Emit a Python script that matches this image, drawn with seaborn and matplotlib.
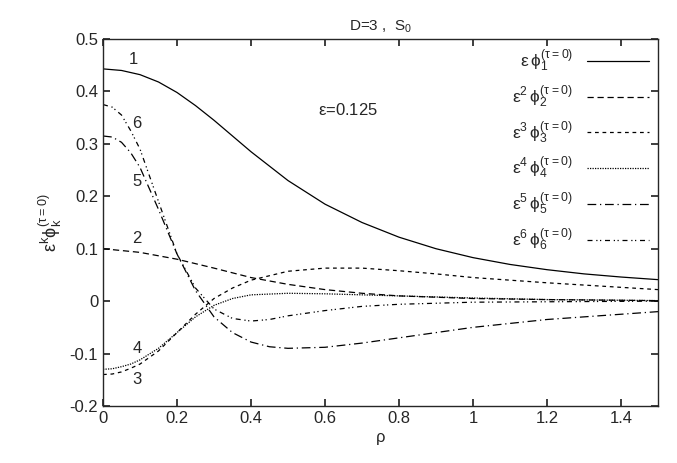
import numpy as np
import pandas as pd
import matplotlib
matplotlib.use('Agg')
import matplotlib.pyplot as plt
import seaborn as sns

sns.set_theme(style='ticks')
plt.rcParams['font.family'] = ['Liberation Sans', 'DejaVu Sans']
plt.rcParams['mathtext.fontset'] = 'dejavusans'
plt.rcParams['mathtext.default'] = 'regular'

# ─── Data ───
rho1 = [0, 0.05, 0.1, 0.15, 0.2, 0.25, 0.3, 0.4, 0.5, 0.6, 0.7, 0.8, 0.9, 1.0, 1.1, 1.2, 1.3, 1.4, 1.5]
phi1 = [0.443, 0.440, 0.432, 0.418, 0.398, 0.373, 0.345, 0.285, 0.23, 0.185, 0.15, 0.122, 0.1, 0.083, 0.07, 0.06, 0.052, 0.046, 0.041]
rho2 = [0, 0.1, 0.2, 0.3, 0.4, 0.5, 0.6, 0.7, 0.8, 1.0, 1.2, 1.5]
phi2 = [0.1, 0.093, 0.08, 0.063, 0.045, 0.032, 0.022, 0.015, 0.01, 0.005, 0.003, 0.001]
rho3 = [0, 0.025, 0.05, 0.075, 0.1, 0.15, 0.2, 0.25, 0.3, 0.35, 0.4, 0.5, 0.6, 0.7, 0.8, 0.9, 1.0, 1.2, 1.5]
phi3 = [-0.14, -0.139, -0.135, -0.128, -0.12, -0.095, -0.06, -0.025, 0.005, 0.025, 0.04, 0.057, 0.063, 0.063, 0.058, 0.052, 0.045, 0.035, 0.022]
rho4 = [0, 0.025, 0.05, 0.075, 0.1, 0.15, 0.2, 0.25, 0.3, 0.35, 0.4, 0.5, 0.6, 0.8, 1.0, 1.2, 1.5]
phi4 = [-0.13, -0.129, -0.125, -0.12, -0.112, -0.09, -0.06, -0.03, -0.008, 0.005, 0.012, 0.015, 0.014, 0.01, 0.006, 0.003, 0.001]
rho5 = [0, 0.025, 0.05, 0.075, 0.1, 0.15, 0.2, 0.25, 0.3, 0.35, 0.4, 0.45, 0.5, 0.6, 0.7, 0.8, 0.9, 1.0, 1.2, 1.5]
phi5 = [0.315, 0.313, 0.303, 0.283, 0.255, 0.175, 0.09, 0.02, -0.03, -0.06, -0.078, -0.087, -0.09, -0.088, -0.08, -0.07, -0.06, -0.05, -0.035, -0.02]
rho6 = [0, 0.025, 0.05, 0.075, 0.1, 0.15, 0.2, 0.25, 0.3, 0.35, 0.4, 0.45, 0.5, 0.6, 0.7, 0.8, 1.0, 1.5]
phi6 = [0.375, 0.37, 0.355, 0.325, 0.29, 0.19, 0.09, 0.025, -0.015, -0.033, -0.038, -0.035, -0.028, -0.018, -0.01, -0.006, -0.002, 0.0]

series = [(rho1, phi1), (rho2, phi2), (rho3, phi3), (rho4, phi4), (rho5, phi5), (rho6, phi6)]
powers = ['', '^2', '^3', '^4', '^5', '^6']
labels = [r'$\epsilon%s\,\phi_%d^{(\tau=0)}$' % (p, k + 1) for k, p in enumerate(powers)]
dashes = [(None, None), (5, 3), (3, 3), (1, 1), (7, 3, 1, 3), (4, 3, 1, 2, 1, 3)]

fig = plt.figure(figsize=(6.77, 4.63), dpi=100)
ax = fig.add_axes([103 / 677, 1 - 406 / 463, 555 / 677, 367 / 463])

for (x, y), lab, d in zip(series, labels, dashes):
    df = pd.DataFrame({'rho': x, 'phi': y})
    sns.lineplot(data=df, x='rho', y='phi', ax=ax, color='black', lw=0.9, label=lab)
    l = ax.get_lines()[-1]
    if d[0] is not None:
        l.set_dashes(d)

ax.set_xlim(0, 1.5)
ax.set_ylim(-0.2, 0.5)
ax.set_xticks(np.arange(0, 1.51, 0.2))
ax.set_xticklabels(['0', '0.2', '0.4', '0.6', '0.8', '1', '1.2', '1.4'])
ax.set_yticks(np.arange(-0.2, 0.51, 0.1))
ax.set_yticklabels(['-0.2', '-0.1', '0', '0.1', '0.2', '0.3', '0.4', '0.5'])
ax.tick_params(direction='in', top=True, right=True, labelsize=12, length=5)
for s in ax.spines.values():
    s.set_linewidth(1.0)
ax.set_xlabel(r'$\rho$', fontsize=12)
ax.set_ylabel(r'$\epsilon^k\phi_k^{(\tau=0)}$', fontsize=13)
ax.set_title(r'D=3 ,  S$_0$', fontsize=11)

ax.legend(loc='upper right', frameon=False, markerfirst=False, fontsize=12.5,
          handlelength=3.6, labelspacing=0.55, borderaxespad=0.1)

ax.text(0.58, 0.355, r'$\epsilon$=0.125', fontsize=12)
for txt, xx, yy in [('1', 0.07, 0.452), ('6', 0.08, 0.33), ('5', 0.08, 0.22),
                    ('2', 0.08, 0.11), ('4', 0.08, -0.098), ('3', 0.08, -0.158)]:
    ax.text(xx, yy, txt, fontsize=12)

plt.savefig('out.png')
